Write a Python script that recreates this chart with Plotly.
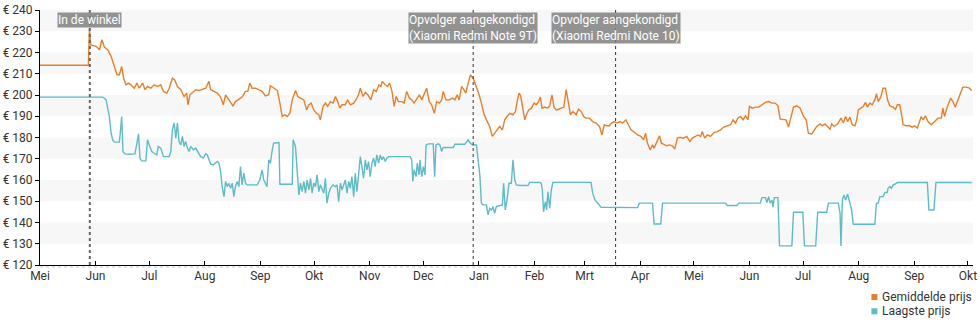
import pandas as pd
import plotly.graph_objects as go

START = pd.Timestamp("2020-05-01")

# Average price (days since 1 May 2020, euro)
avg_days = [0, 27.0, 27.6, 28.3, 31.3, 33.2, 34.6, 35.9, 37.8, 39.7, 41.5, 43.0, 44.3, 45.6, 46.7, 48.0, 49.3,
            50.8, 52.6, 54.1, 55.4, 57.3, 58.6, 60.0, 61.9, 63.7, 65.6, 67.4, 68.9, 70.8, 72.1, 73.9, 75.2,
            76.7, 78.6, 80.4, 81.9, 82.6, 83.7, 85.0, 86.9, 88.8, 90.6, 92.5, 94.3, 95.2, 97.1, 99.0, 100.8,
            102.3, 103.6, 105.4, 106.4, 107.7, 109.1, 111.0, 112.8, 114.7, 116.0, 117.1, 118.4, 120.3, 122.1,
            124.0, 125.8, 127.7, 128.6, 130.4, 132.5, 133.9, 135.2, 136.5, 138.0, 139.5, 140.8, 142.6, 143.9,
            145.4, 147.3, 148.8, 150.1, 151.4, 152.8, 154.3, 155.6, 156.5, 158.0, 159.3, 160.6, 162.1, 163.6,
            164.9, 166.2, 167.3, 168.6, 170.4, 171.7, 173.2, 175.1, 176.6, 177.8, 178.8, 180.3, 181.6, 183.0,
            184.7, 186.2, 187.7, 189.2, 190.3, 191.0, 192.7, 194.0, 195.1, 196.4, 197.7, 198.8, 200.1, 201.9,
            203.2, 204.7, 206.2, 207.5, 208.8, 210.3, 211.8, 213.1, 214.4, 215.8, 217.3, 218.6, 220.1, 221.4,
            222.9, 224.2, 225.1, 226.6, 228.4, 230.3, 231.6, 232.9, 234.0, 235.3, 236.6, 237.7, 239.0, 240.3,
            241.8, 243.6, 245.1, 246.4, 247.7, 249.2, 251.0, 252.5, 253.8, 255.1, 256.6, 258.1, 259.4, 260.7,
            262.2, 264.0, 265.4, 266.5, 267.4, 268.3, 269.6, 270.6, 271.5, 272.8, 274.3, 275.8, 277.0, 278.3,
            279.3, 280.2, 281.7, 283.2, 284.5, 285.8, 286.9, 288.2, 289.5, 290.9, 292.4, 293.7, 295.0, 296.1,
            297.4, 299.3, 300.6, 302.1, 303.5, 304.8, 306.7, 308.5, 310.4, 312.3, 313.7, 315.0, 316.5, 317.8,
            319.1, 320.6, 322.1, 323.9, 325.2, 327.1, 328.4, 329.9, 331.3, 333.6, 335.4, 336.9, 338.0, 339.1,
            340.6, 341.9, 342.8, 344.3, 345.8, 346.9, 348.4, 349.9, 351.4, 353.0, 354.3, 355.8, 357.3, 359.1,
            361.0, 362.8, 364.1, 366.0, 367.3, 368.8, 369.7, 371.0, 372.5, 374.3, 376.2, 378.0, 379.9, 381.7,
            383.6, 385.4, 386.9, 388.2, 389.5, 391.0, 392.5, 393.8, 395.2, 396.0, 397.5, 399.3, 401.2, 403.0,
            404.9, 406.7, 408.6, 410.4, 411.9, 413.2, 415.1, 416.4, 417.8, 419.3, 420.6, 422.5, 424.3, 426.2,
            427.7, 428.9, 430.8, 432.3, 433.6, 435.4, 436.7, 438.2, 439.7, 441.0, 441.9, 443.4, 445.3, 447.1,
            448.4, 449.7, 450.8, 452.1, 453.4, 454.9, 455.8, 456.8, 458.2, 459.5, 460.8, 461.9, 463.2, 464.5,
            466.0, 466.9, 467.9, 469.3, 470.6, 471.9, 473.1, 474.4, 476.2, 477.5, 478.6, 479.9, 480.8, 481.8,
            483.6, 485.5, 486.8, 488.2, 489.7, 491.0, 491.9, 492.9, 494.2, 495.7, 497.5, 499.4, 501.2, 503.1,
            504.0, 504.9, 506.4, 508.3, 509.6, 510.9, 512.3, 513.8, 515.1, 517.0, 518.8, 520.1]
avg_price = [214, 214, 231.0, 223.6, 222.9, 221.3, 226.0, 222.6, 221.3, 218.2, 213.4, 209.5, 209.5, 213.4, 207.9,
             204.8, 205.6, 204.8, 203.2, 205.6, 203.2, 205.6, 202.5, 204.0, 203.2, 204.8, 204.0, 204.8, 201.7,
             200.9, 203.2, 207.9, 207.1, 204.0, 202.5, 199.3, 200.9, 195.4, 200.1, 200.9, 202.5, 202.1, 202.5,
             203.2, 206.4, 202.5, 201.7, 200.9, 199.0, 195.4, 200.1, 197.7, 196.9, 194.9, 196.9, 198.0, 199.0,
             201.7, 201.7, 205.6, 203.2, 203.2, 202.5, 201.7, 199.6, 200.1, 204.4, 203.2, 202.1, 196.2, 189.9,
             190.7, 189.9, 191.4, 197.7, 202.1, 199.3, 198.5, 197.7, 193.0, 195.4, 196.2, 193.0, 191.4, 190.7,
             188.3, 194.6, 196.2, 194.6, 196.9, 196.2, 199.3, 196.9, 193.8, 195.4, 195.4, 197.7, 195.4, 196.2,
             198.0, 200.1, 203.2, 199.3, 201.2, 200.1, 197.7, 202.5, 201.7, 204.8, 204.0, 206.4, 204.8, 204.0,
             205.6, 202.1, 194.6, 199.3, 196.9, 196.9, 196.2, 201.7, 198.5, 197.7, 196.2, 198.5, 200.1, 197.7,
             200.1, 203.2, 196.9, 195.4, 191.4, 196.9, 196.2, 197.7, 201.7, 197.7, 197.7, 198.5, 197.7, 200.1,
             197.7, 204.0, 202.5, 200.9, 205.6, 209.5, 207.9, 204.0, 200.1, 196.2, 191.4, 188.3, 185.2, 180.5,
             182.0, 183.6, 185.2, 183.6, 188.3, 189.9, 191.4, 190.7, 192.2, 197.7, 200.9, 199.6, 193.0, 188.3,
             190.7, 193.0, 193.8, 196.2, 195.4, 196.9, 199.0, 193.8, 194.3, 193.8, 194.9, 200.1, 194.3, 193.0,
             193.3, 193.8, 194.3, 202.5, 196.9, 190.7, 192.2, 190.7, 193.3, 192.2, 189.9, 189.1, 189.1, 187.5,
             186.8, 185.2, 181.2, 186.0, 185.5, 185.5, 186.8, 187.5, 186.8, 187.5, 186.8, 188.3, 186.0, 183.6,
             182.8, 181.2, 180.5, 178.9, 182.0, 177.3, 174.2, 176.5, 175.0, 178.1, 180.8, 177.3, 176.5, 176.1,
             176.5, 176.1, 174.5, 179.7, 180.1, 179.7, 180.5, 178.1, 179.7, 180.5, 181.2, 180.5, 182.8, 179.7,
             181.2, 180.5, 182.3, 182.8, 183.6, 184.9, 185.5, 186.0, 188.3, 186.8, 189.1, 189.9, 188.3, 190.2,
             188.3, 194.6, 193.8, 194.3, 194.3, 195.4, 196.5, 196.9, 196.2, 196.2, 194.9, 188.6, 188.3, 188.3,
             184.9, 189.9, 194.3, 194.9, 193.8, 189.9, 188.3, 182.0, 181.7, 183.6, 185.2, 186.4, 185.5, 186.4,
             184.9, 183.9, 186.4, 185.2, 186.4, 189.1, 186.8, 189.9, 187.5, 189.6, 186.0, 185.5, 188.0, 193.0,
             193.8, 194.6, 196.5, 194.3, 196.2, 195.4, 197.7, 200.6, 196.9, 199.0, 203.2, 203.2, 197.7, 194.9,
             194.3, 193.3, 195.4, 195.4, 191.4, 186.0, 185.5, 185.5, 184.9, 185.5, 184.4, 188.3, 189.9, 188.3,
             190.2, 187.5, 186.0, 187.5, 189.1, 189.1, 193.8, 189.9, 194.3, 198.5, 196.9, 194.3, 197.7, 200.6,
             203.7, 203.7, 203.2, 202.1]

# Lowest price (days since 1 May 2020, euro)
low_days = [0, 35.0, 35.9, 36.9, 37.8, 38.7, 39.7, 40.6, 41.5, 44.3, 44.8, 45.6, 46.3, 47.4, 49.8, 53.0, 54.1,
            55.0, 55.8, 56.7, 59.1, 60.0, 61.3, 62.4, 63.7, 65.2, 66.0, 67.4, 68.9, 72.1, 73.0, 73.9, 74.9,
            75.8, 76.7, 77.6, 78.6, 79.5, 80.4, 81.3, 82.3, 83.2, 84.1, 85.6, 86.9, 88.8, 89.7, 91.2, 92.5,
            93.4, 94.3, 95.2, 96.7, 98.0, 99.0, 99.9, 100.8, 101.7, 102.7, 103.6, 104.5, 105.4, 106.4, 107.3,
            108.2, 109.1, 110.1, 111.0, 111.9, 112.8, 113.8, 114.7, 115.6, 121.2, 122.7, 124.0, 124.9, 125.8,
            126.7, 127.7, 128.6, 129.5, 130.4, 133.4, 133.9, 140.8, 141.3, 142.6, 143.6, 144.5, 145.4, 146.3,
            147.3, 148.2, 149.1, 150.1, 151.0, 151.9, 152.8, 153.8, 154.7, 155.6, 156.5, 157.5, 158.4, 159.3,
            160.2, 161.2, 162.1, 163.6, 164.9, 165.8, 166.7, 167.7, 168.6, 169.5, 170.4, 171.4, 172.3, 173.2,
            174.1, 175.1, 176.0, 176.9, 177.8, 178.8, 179.7, 180.6, 181.6, 182.5, 183.4, 184.3, 185.3, 186.2,
            187.1, 188.0, 189.0, 189.9, 190.8, 191.7, 192.7, 193.6, 194.5, 206.6, 207.5, 208.1, 208.8, 209.9,
            210.6, 211.6, 212.1, 213.1, 214.0, 214.9, 215.5, 216.8, 219.5, 220.3, 221.0, 222.3, 223.2, 224.2,
            224.7, 225.5, 230.7, 231.6, 237.1, 239.0, 239.9, 241.4, 243.6, 244.6, 245.5, 246.4, 247.3, 249.2,
            250.1, 251.0, 252.0, 252.9, 253.8, 254.7, 256.6, 258.1, 258.8, 259.7, 260.7, 261.8, 263.1, 264.0,
            265.0, 265.9, 267.8, 272.4, 273.3, 278.9, 279.8, 280.4, 281.1, 282.1, 282.8, 283.5, 284.5, 285.4,
            286.3, 307.6, 308.5, 309.8, 311.3, 313.2, 333.6, 334.5, 341.9, 342.8, 346.5, 347.5, 382.7, 383.6,
            389.1, 390.1, 402.1, 403.0, 404.9, 405.8, 406.7, 407.6, 408.6, 409.1, 409.9, 411.9, 412.8, 419.7,
            420.6, 425.8, 426.7, 433.0, 434.1, 439.1, 440.1, 445.6, 446.6, 447.1, 447.9, 448.8, 449.7, 450.8,
            452.1, 453.0, 454.0, 466.0, 466.9, 467.9, 468.8, 470.6, 471.6, 472.9, 473.4, 474.4, 475.3, 476.2,
            477.1, 478.6, 495.3, 496.2, 499.0, 500.1, 520.1]
low_price = [199.0, 199.0, 198.5, 197.7, 193.8, 189.9, 182.0, 178.9, 177.8, 177.8, 182.0, 189.9, 173.4, 172.3,
             172.1, 172.3, 177.3, 181.7, 170.3, 169.0, 169.0, 178.9, 175.8, 173.4, 172.6, 171.8, 175.8, 175.0,
             171.0, 171.0, 173.4, 183.6, 186.8, 179.7, 186.8, 178.1, 176.5, 180.5, 175.8, 178.1, 175.0, 173.4,
             175.8, 174.2, 175.0, 172.6, 171.0, 170.3, 172.3, 171.8, 169.8, 167.6, 167.1, 167.9, 168.7, 167.9,
             164.0, 156.9, 152.2, 159.3, 156.9, 158.5, 156.1, 158.5, 152.2, 156.9, 159.3, 156.9, 166.3, 157.7,
             163.2, 158.5, 157.7, 157.7, 160.0, 164.8, 160.0, 158.5, 156.9, 169.5, 167.9, 173.4, 177.3, 177.6,
             158.0, 158.0, 178.9, 175.8, 161.6, 153.0, 158.5, 154.5, 159.3, 153.8, 160.0, 155.3, 160.8, 153.8,
             158.5, 156.9, 162.4, 154.5, 157.7, 155.3, 153.8, 160.8, 149.1, 153.8, 156.1, 157.7, 156.9, 157.7,
             149.8, 158.5, 155.3, 157.7, 160.0, 153.8, 159.3, 156.1, 161.6, 152.2, 163.2, 154.5, 161.6, 171.0,
             166.3, 160.8, 169.5, 164.8, 168.7, 161.6, 167.9, 170.3, 166.3, 171.8, 167.9, 171.8, 169.5, 171.0,
             168.7, 170.3, 171.0, 171.0, 169.5, 159.3, 164.8, 161.6, 167.9, 162.4, 169.5, 161.6, 166.3, 162.4,
             176.5, 177.0, 177.0, 161.6, 176.5, 177.0, 176.5, 173.4, 175.0, 175.3, 175.3, 176.8, 176.8, 178.9,
             177.6, 176.5, 176.5, 169.5, 162.4, 149.1, 148.3, 148.3, 143.6, 146.7, 145.9, 147.5, 144.3, 147.5,
             147.8, 148.3, 158.5, 145.9, 150.6, 158.5, 158.5, 169.5, 160.0, 157.7, 157.4, 157.4, 158.9, 158.9,
             158.5, 155.3, 145.1, 149.8, 145.9, 154.5, 146.7, 155.3, 158.9, 158.9, 153.8, 150.6, 149.1, 147.2,
             147.0, 149.1, 149.1, 139.3, 139.3, 149.1, 149.1, 148.0, 148.0, 149.1, 149.1, 151.7, 151.7, 149.4,
             152.2, 149.1, 150.6, 147.2, 151.7, 151.7, 129.0, 129.0, 144.8, 144.8, 129.0, 129.0, 144.8, 144.8,
             149.1, 149.1, 144.3, 129.0, 150.6, 153.0, 150.6, 153.4, 149.1, 145.9, 139.2, 139.2, 149.1, 149.1,
             152.2, 152.2, 154.1, 154.1, 156.1, 156.9, 156.1, 157.7, 158.0, 158.8, 158.8, 145.9, 145.9, 158.8,
             158.8]

# Events (days since 1 May 2020) and their labels
event_days = [27.8, 241.8, 321.3]
event_labels = ["In de winkel",
                "Opvolger aangekondigd<br>(Xiaomi Redmi Note 9T)",
                "Opvolger aangekondigd<br>(Xiaomi Redmi Note 10)"]

# Month ticks
month_ticks = pd.date_range("2020-05-01", "2021-10-01", freq="MS")
month_names = ["Mei", "Jun", "Jul", "Aug", "Sep", "Okt", "Nov", "Dec", "Jan",
               "Feb", "Mrt", "Apr", "Mei", "Jun", "Jul", "Aug", "Sep", "Okt"]
price_ticks = list(range(120, 241, 10))

series_names = ["Gemiddelde prijs", "Laagste prijs"]
ORANGE = "#e97f2c"
TEAL = "#5dbcc6"


def to_dates(days):
    return START + pd.to_timedelta(days, unit="D")


fig = go.Figure()
fig.add_trace(go.Scatter(x=to_dates(avg_days), y=avg_price, mode="lines", name=series_names[0],
                         line=dict(color=ORANGE, width=1.4), showlegend=False))
fig.add_trace(go.Scatter(x=to_dates(low_days), y=low_price, mode="lines", name=series_names[1],
                         line=dict(color=TEAL, width=1.4), showlegend=False))

shapes = []
# alternating light bands
for lo in range(130, 240, 20):
    shapes.append(dict(type="rect", xref="paper", x0=0, x1=1, yref="y", y0=lo, y1=lo + 10,
                       fillcolor="#f7f7f7", line=dict(width=0), layer="below"))
# faint dotted rule under the x axis
shapes.append(dict(type="line", xref="paper", x0=0, x1=1, yref="paper", y0=-0.008, y1=-0.008,
                   line=dict(color="#c8c8c8", width=1, dash="dot")))

annotations = []
for i, (d, lab) in enumerate(zip(event_days, event_labels)):
    xd = to_dates([d])[0]
    shapes.append(dict(type="line", xref="x", x0=xd, x1=xd, yref="paper", y0=0, y1=1,
                       line=dict(color="#666" if i == 0 else "#333", width=2 if i == 0 else 1, dash="dot")))
    annotations.append(dict(x=xd, xref="x", y=1, yref="paper", yanchor="top", yshift=-2,
                            text=lab, showarrow=False, align="left",
                            font=dict(family="Roboto", size=12, color="white"),
                            bgcolor="rgba(128,128,128,0.85)", borderpad=0))

# legend drawn as swatches + labels
for j, (name, col) in enumerate(zip(series_names, [ORANGE, TEAL])):
    yc = -0.1256 - j * 0.056
    shapes.append(dict(type="rect", xref="paper", yref="paper", x0=0.8911, x1=0.8975,
                       y0=yc - 0.0118, y1=yc + 0.0118, fillcolor=col, line=dict(width=0)))
    annotations.append(dict(x=0.9007, xref="paper", y=yc, yref="paper", xanchor="left", yanchor="middle",
                            text=name, showarrow=False, font=dict(family="Roboto", size=12, color="#333")))

fig.update_layout(
    width=980, height=325,
    margin=dict(l=40, r=3, t=10, b=60),
    plot_bgcolor="white", paper_bgcolor="white",
    font=dict(family="Roboto", size=12, color="#333"),
    shapes=shapes, annotations=annotations,
    xaxis=dict(type="date", range=[START, START + pd.Timedelta(days=520.8)],
               tickvals=month_ticks, ticktext=month_names,
               ticks="inside", ticklen=4, tickcolor="#000", ticklabeloverflow="allow",
               showline=True, linecolor="#000", linewidth=1,
               showgrid=False, zeroline=False, tickfont=dict(size=12, color="#333")),
    yaxis=dict(range=[120, 240], tickvals=price_ticks, ticktext=[f"€ {v}" for v in price_ticks],
               ticks="outside", ticklen=4, tickcolor="#000",
               showline=True, linecolor="#000", linewidth=1,
               showgrid=False, zeroline=False, tickfont=dict(size=12, color="#333")),
)

fig.write_html("out.html")
